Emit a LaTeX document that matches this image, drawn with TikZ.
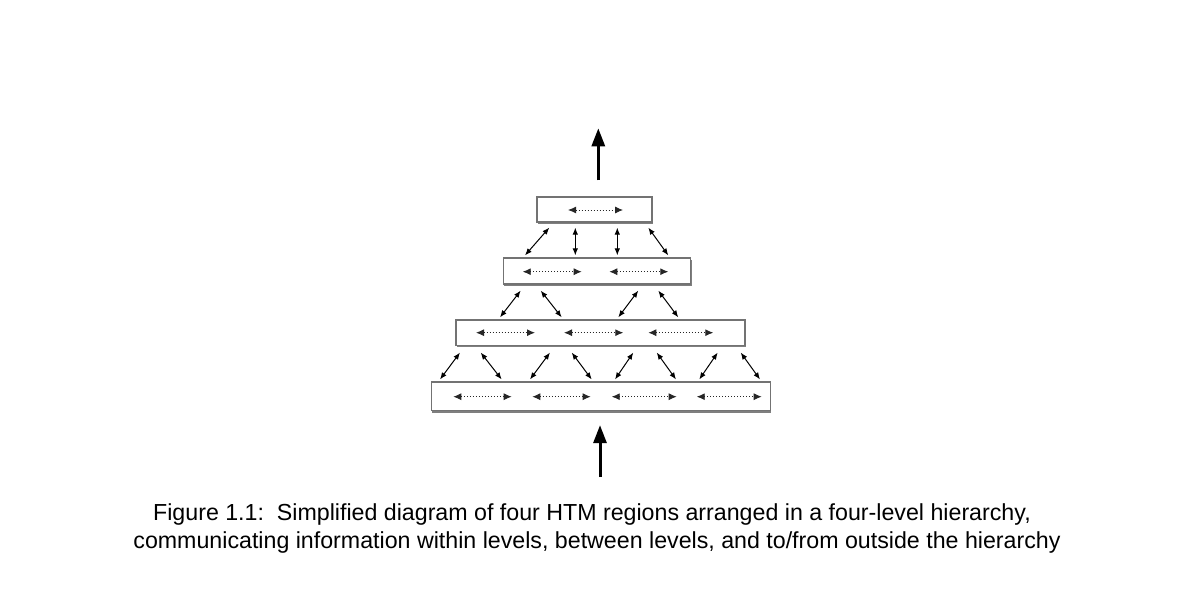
\documentclass[tikz,border=0pt]{standalone}
\usepackage{fontspec}
\setmainfont{Liberation Sans}
\usetikzlibrary{arrows.meta,calc,shadows}
\begin{document}
\begin{tikzpicture}[x=1pt,y=-1pt,
  region/.style={draw=black!55, line width=1.2pt, fill=white, inner sep=0pt,
    drop shadow={shadow xshift=0.8pt, shadow yshift=-2pt, fill=black, opacity=0.5}},
  link/.style={{Latex[length=7pt,width=5.5pt]}-{Latex[length=7pt,width=5.5pt]}, line width=1pt},
  lateral/.style={{Latex[length=8pt,width=7pt]}-{Latex[length=8pt,width=7pt]}, line width=0.9pt,
    dash pattern=on 1pt off 2pt, black!85},
  bigup/.style={-{Triangle[length=18pt,width=13pt]}, line width=3pt},
  captext/.style={anchor=base, inner sep=0pt, font=\fontsize{23.2}{27}\selectfont}
]
\useasboundingbox (0,0) rectangle (1181,591);

% regions
\node[region, minimum width=115pt, minimum height=25pt] (B1) at (594.5,209.5) {};
\node[region, minimum width=187.4pt, minimum height=26pt] (B2) at (597,271) {};
\node[region, minimum width=289pt, minimum height=25.5pt] (B3) at (600.5,332.7) {};
\node[region, minimum width=339pt, minimum height=28.5pt] (B4) at (601.1,396.3) {};

% lateral (within-level) arrows
\draw[lateral] (568,210) -- (623,210);
\draw[lateral] (522.7,271.7) -- (581.7,271.7);
\draw[lateral] (609.3,271.7) -- (668.3,271.7);
\draw[lateral] (476,332.7) -- (535,332.7);
\draw[lateral] (564,332.7) -- (623.3,332.7);
\draw[lateral] (648.3,332.7) -- (713.3,332.7);
\draw[lateral] (453.3,396.7) -- (511.7,396.7);
\draw[lateral] (532.3,396.7) -- (590.7,396.7);
\draw[lateral] (611.7,396.7) -- (676.7,396.7);
\draw[lateral] (696.7,396.7) -- (761.7,396.7);

% level 1 <-> level 2
\draw[link] ($(B1.south)+(-45.2,5)$) -- ($(B2.north)+(-72,-2)$);
\draw[link] ($(B1.south)+(-19.2,5)$) -- ($(B2.north)+(-21.7,-2)$);
\draw[link] ($(B1.south)+(22.8,5)$) -- ($(B2.north)+(20.3,-2)$);
\draw[link] ($(B1.south)+(53.8,5)$) -- ($(B2.north)+(71.3,-2)$);

% level 2 <-> level 3
\draw[link] ($(B2.south)+(-76.3,6)$) -- ($(B3.north)+(-100.5,-2)$);
\draw[link] ($(B2.south)+(-56.3,6)$) -- ($(B3.north)+(-38.8,-2)$);
\draw[link] ($(B2.south)+(41.3,6)$) -- ($(B3.north)+(17.8,-2)$);
\draw[link] ($(B2.south)+(61.3,6)$) -- ($(B3.north)+(77.8,-2)$);

% level 3 <-> level 4
\draw[link] ($(B3.south)+(-140.5,6.5)$) -- ($(B4.north)+(-161.1,-2)$);
\draw[link] ($(B3.south)+(-119.8,6.5)$) -- ($(B4.north)+(-99.4,-2)$);
\draw[link] ($(B3.south)+(-50.5,6.5)$) -- ($(B4.north)+(-71.1,-2)$);
\draw[link] ($(B3.south)+(-28.8,6.5)$) -- ($(B4.north)+(-9.4,-2)$);
\draw[link] ($(B3.south)+(32.8,6.5)$) -- ($(B4.north)+(13.9,-2)$);
\draw[link] ($(B3.south)+(56.2,6.5)$) -- ($(B4.north)+(74.9,-2)$);
\draw[link] ($(B3.south)+(117.2,6.5)$) -- ($(B4.north)+(98.2,-2)$);
\draw[link] ($(B3.south)+(140.2,6.5)$) -- ($(B4.north)+(158.9,-2)$);

% to/from outside
\coordinate (topout) at (598.3,128.3);
\coordinate (botin) at (600,477);
\draw[bigup] ($(B1.north)+(3.8,-16)$) -- (topout);
\draw[bigup] (botin) -- ($(B4.south)+(-1.1,14)$);

% caption
\node[captext] (cap1) at (592,520.5) {Figure 1.1:\ \ Simplified diagram of four HTM regions arranged in a four-level hierarchy,};
\node[captext] (cap2) at (597,548.5) {communicating information within levels, between levels, and to/from outside the hierarchy};
\end{tikzpicture}
\end{document}
